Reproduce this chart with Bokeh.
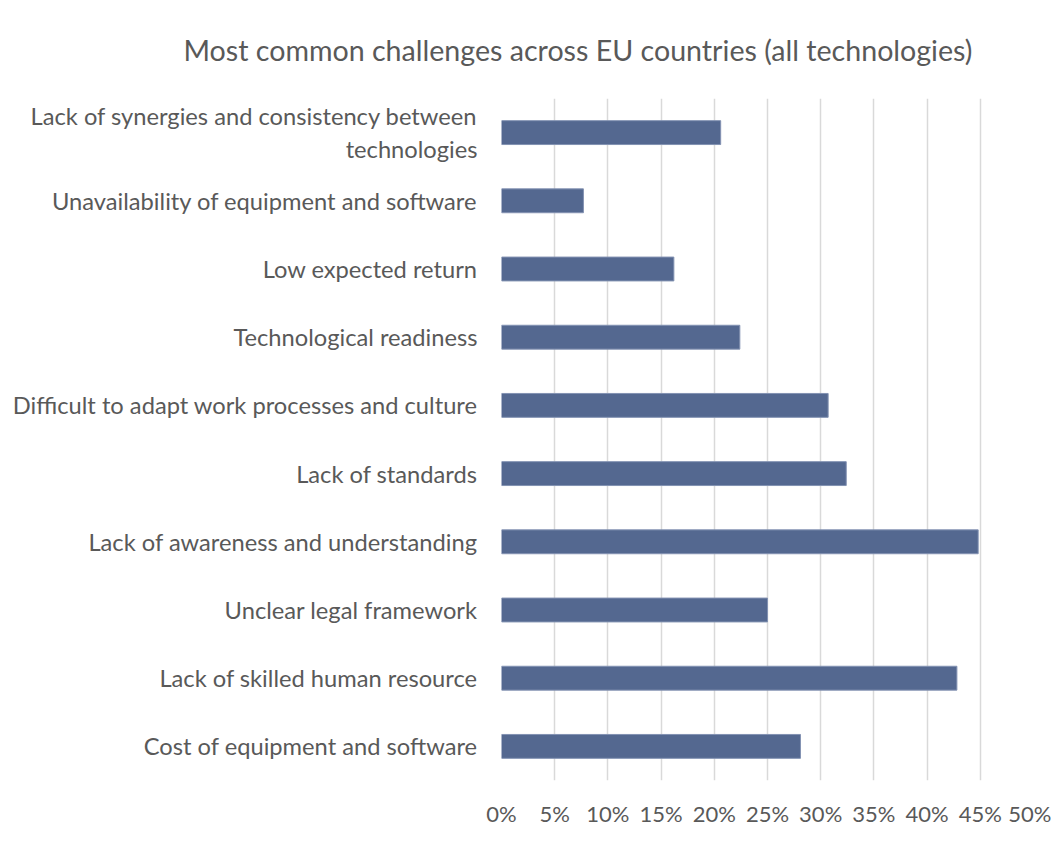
from bokeh.plotting import figure
from bokeh.models import Range1d, FixedTicker, PrintfTickFormatter, Title
from bokeh.embed import file_html
from bokeh.resources import INLINE

# ---- data (bottom to top) ----
categories = [
    "Cost of equipment and software",
    "Lack of skilled human resource",
    "Unclear legal framework",
    "Lack of awareness and understanding",
    "Lack of standards",
    "Difficult to adapt work processes and culture",
    "Technological readiness",
    "Low expected return",
    "Unavailability of equipment and software",
    "Lack of synergies and consistency between\ntechnologies",
]
shares = [28.1, 42.8, 25.0, 44.8, 32.4, 30.7, 22.4, 16.2, 7.7, 20.6]
x_ticks = [0, 5, 10, 15, 20, 25, 30, 35, 40, 45, 50]
title_text = "Most common challenges across EU countries (all technologies)"

FONT = "Lato"
TXT = "#595959"
LABEL_SIZE = "23.7px"

W, H = 1051, 834
LEFT, RIGHT, TOP, BOTTOM = 501, 18, 98, 54

# one slot per category, centred on i + 0.5
rows = [i + 0.5 for i in range(len(categories))]

p = figure(
    width=W, height=H,
    y_range=Range1d(0, len(categories)),
    x_range=Range1d(0, 50),
    output_backend="svg", toolbar_location=None,
    min_border_left=LEFT, min_border_right=RIGHT,
    min_border_top=TOP, min_border_bottom=BOTTOM,
)
p.outline_line_color = None
p.background_fill_color = "white"
p.border_fill_color = "white"

p.hbar(y=rows, right=shares, left=0, height=0.35,
       fill_color="#546890", line_color="#8392B2", line_width=1)

# x axis
p.xaxis.ticker = FixedTicker(ticks=x_ticks)
p.xaxis.formatter = PrintfTickFormatter(format="%d%%")
p.xaxis.axis_line_color = None
p.xaxis.major_tick_line_color = None
p.xaxis.minor_tick_line_color = None
p.xaxis.major_tick_out = 0
p.xaxis.major_tick_in = 0
p.xaxis.major_label_standoff = 19
p.xaxis.major_label_text_font = FONT
p.xaxis.major_label_text_font_size = "22px"
p.xaxis.major_label_text_color = TXT

# y axis: category names on the row centres
p.yaxis.ticker = FixedTicker(ticks=rows)
p.yaxis.major_label_overrides = {r: c for r, c in zip(rows, categories)}
p.yaxis.axis_line_color = None
p.yaxis.major_tick_line_color = None
p.yaxis.minor_tick_line_color = None
p.yaxis.major_tick_out = 0
p.yaxis.major_tick_in = 0
p.yaxis.major_label_standoff = 24
p.yaxis.major_label_text_font = FONT
p.yaxis.major_label_text_font_size = LABEL_SIZE
p.yaxis.major_label_text_color = TXT

# grid
p.ygrid.grid_line_color = None
p.xgrid.grid_line_color = "#D9D9D9"
p.xgrid.grid_line_width = 1.5

# title
t = Title(text=title_text, align="left", offset=-318, standoff=62,
          vertical_align="middle",
          text_font=FONT, text_font_size="28.6px", text_font_style="normal",
          text_color=TXT)
p.add_layout(t, "above")

open("out.html", "w").write(file_html(p, INLINE))
